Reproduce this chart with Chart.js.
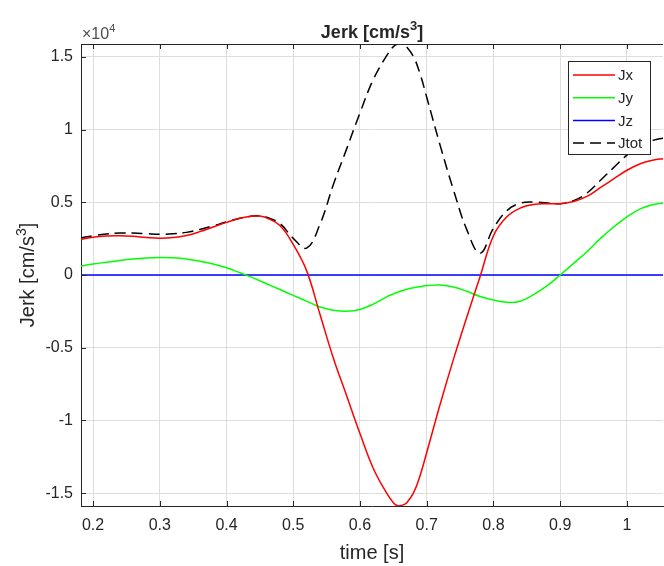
<!DOCTYPE html>
<html>
<head>
<meta charset="utf-8">
<script src="https://cdn.jsdelivr.net/npm/chart.js@4.4.1/dist/chart.umd.min.js"></script>
<style>
  html, body { margin: 0; padding: 0; background: #fff; }
  #wrap { width: 664px; height: 566px; position: relative; }
</style>
</head>
<body>
<div id="wrap"><canvas id="jerkChart"></canvas></div>
<script>
// time [s]
var time = [0.182, 0.20, 0.22, 0.24, 0.26, 0.28, 0.30, 0.32, 0.34, 0.36, 0.38, 0.40, 0.42, 0.44, 0.45, 0.46, 0.48,
            0.50, 0.52, 0.54, 0.56, 0.58, 0.60, 0.62, 0.64, 0.65, 0.657, 0.665, 0.67, 0.68, 0.69, 0.70,
            0.72, 0.74, 0.76, 0.78, 0.80, 0.82, 0.84, 0.86, 0.88, 0.90, 0.92, 0.94, 0.96, 0.98, 1.00, 1.02, 1.04, 1.054];
// jerk [cm/s^3]
var jx = [2450, 2600, 2680, 2700, 2660, 2580, 2530, 2570, 2720, 2980, 3300, 3620, 3900, 4050, 4050, 3930, 3400,
          2100, 300, -2700, -5700, -8300, -10900, -13300, -15000, -15650, -15880, -15800, -15650, -15000, -13800, -12200,
          -8900, -5800, -2900, -100, 2700, 4000, 4600, 4850, 4900, 4900, 5050, 5400, 6000, 6600, 7200, 7650, 7900, 8000];
var jy = [620, 750, 880, 1000, 1100, 1170, 1200, 1180, 1100, 950, 750, 500, 150, -200, -400, -600, -1000,
          -1400, -1800, -2200, -2420, -2490, -2370, -2000, -1500, -1300, -1170, -1050, -980, -880, -800, -730,
          -690, -820, -1120, -1480, -1720, -1880, -1800, -1350, -750, 0, 800, 1600, 2500, 3300, 4000, 4550, 4850, 4950];
var jz = [0, 0, 0, 0, 0, 0, 0, 0, 0, 0, 0, 0, 0, 0, 0, 0, 0,
          0, 0, 0, 0, 0, 0, 0, 0, 0, 0, 0, 0, 0, 0, 0,
          0, 0, 0, 0, 0, 0, 0, 0, 0, 0, 0, 0, 0, 0, 0, 0, 0, 0];
var jtot = [2550, 2700, 2820, 2880, 2880, 2840, 2800, 2830, 2930, 3130, 3380, 3650, 3900, 4050, 4060, 3970, 3540,
            2520, 1850, 3480, 6200, 8670, 11150, 13450, 15080, 15700, 15880, 15830, 15680, 15030, 13830, 12220,
            8930, 5860, 3120, 1500, 3220, 4420, 4940, 5020, 4950, 4900, 5110, 5630, 6500, 7380, 8240, 8900, 9270, 9410];

var seriesNames = ["Jx", "Jy", "Jz", "Jtot"];
var xTicks = [0.2, 0.3, 0.4, 0.5, 0.6, 0.7, 0.8, 0.9, 1.0];
var xTickLabels = ["0.2", "0.3", "0.4", "0.5", "0.6", "0.7", "0.8", "0.9", "1"];
var yTicks = [-15000, -10000, -5000, 0, 5000, 10000, 15000];
var yTickLabels = ["-1.5", "-1", "-0.5", "0", "0.5", "1", "1.5"];

var FONT = "'Liberation Sans', Arial, Helvetica, sans-serif";
var INK = "#262626";

function pts(arr) {
    return time.map(function (t, i) { return { x: t, y: arr[i] }; });
}

// text with a superscript in the middle, e.g. "Jerk [cm/s" + "3" + "]"
function supText(ctx, pre, sup, post, x, y, size, weight, align) {
    var big = weight + " " + size + "px " + FONT;
    var small = weight + " " + Math.round(size * 0.7) + "px " + FONT;
    ctx.font = big;
    var w1 = ctx.measureText(pre).width;
    var w3 = ctx.measureText(post).width;
    ctx.font = small;
    var w2 = ctx.measureText(sup).width;
    var total = w1 + w2 + w3;
    var x0 = align === "center" ? x - total / 2 : x;
    ctx.textAlign = "left";
    ctx.textBaseline = "alphabetic";
    ctx.font = big;
    ctx.fillText(pre, x0, y);
    ctx.font = small;
    ctx.fillText(sup, x0 + w1, y - size * 0.42);
    ctx.font = big;
    ctx.fillText(post, x0 + w1 + w2, y);
}

var overlay = {
    id: "overlay",
    afterDraw: function (chart) {
        var ctx = chart.ctx;
        var a = chart.chartArea;
        var sx = chart.scales.x, sy = chart.scales.y;
        ctx.save();

        // top box line + inward ticks
        ctx.strokeStyle = INK;
        ctx.lineWidth = 1;
        ctx.beginPath();
        ctx.moveTo(a.left, a.top + 0.5);
        ctx.lineTo(a.right, a.top + 0.5);
        xTicks.forEach(function (v) {
            var px = Math.round(sx.getPixelForValue(v)) + 0.5;
            ctx.moveTo(px, a.bottom);
            ctx.lineTo(px, a.bottom - 5);
            ctx.moveTo(px, a.top);
            ctx.lineTo(px, a.top + 5);
        });
        yTicks.forEach(function (v) {
            var py = Math.round(sy.getPixelForValue(v)) + 0.5;
            ctx.moveTo(a.left, py);
            ctx.lineTo(a.left + 5, py);
        });
        ctx.stroke();

        ctx.fillStyle = INK;
        // title
        supText(ctx, "Jerk [cm/s", "3", "]", (a.left + a.right) / 2, 38, 18, "bold", "center");
        // exponent
        ctx.fillStyle = "#4d4d4d";
        supText(ctx, "\u00d710", "4", "", 82, 39, 16, "normal", "left");
        // x label
        ctx.fillStyle = INK;
        ctx.font = "normal 20px " + FONT;
        ctx.textAlign = "center";
        ctx.textBaseline = "alphabetic";
        ctx.fillText("time [s]", (a.left + a.right) / 2, 559);
        // y label
        ctx.save();
        ctx.translate(34, (a.top + a.bottom) / 2);
        ctx.rotate(-Math.PI / 2);
        supText(ctx, "Jerk [cm/s", "3", "]", 0, 0, 20, "normal", "center");
        ctx.restore();

        // legend box
        var lx = 568, ly = 61, lw = 82, lh = 93;
        ctx.fillStyle = "#fff";
        ctx.fillRect(lx, ly, lw, lh);
        ctx.strokeStyle = INK;
        ctx.lineWidth = 1;
        ctx.strokeRect(lx + 0.5, ly + 0.5, lw, lh);
        chart.data.datasets.forEach(function (ds, i) {
            var yy = ly + 14 + i * 22.7;
            ctx.strokeStyle = ds.borderColor;
            ctx.lineWidth = 1.5;
            ctx.setLineDash(ds.borderDash || []);
            ctx.beginPath();
            ctx.moveTo(573, yy);
            ctx.lineTo(615, yy);
            ctx.stroke();
            ctx.setLineDash([]);
            ctx.fillStyle = INK;
            ctx.font = "normal 15px " + FONT;
            ctx.textAlign = "left";
            ctx.textBaseline = "middle";
            ctx.fillText(ds.label, 618, yy + 1);
        });
        ctx.restore();
    }
};

var common = { pointRadius: 0, borderWidth: 1.5, fill: false, tension: 0.4 };

var jerkChart = new Chart(document.getElementById("jerkChart"), {
    type: "line",
    data: {
        datasets: [
            Object.assign({ label: seriesNames[0], data: pts(jx), borderColor: "#ff0000" }, common),
            Object.assign({ label: seriesNames[1], data: pts(jy), borderColor: "#00ff00" }, common),
            Object.assign({ label: seriesNames[2], data: pts(jz), borderColor: "#0000ff" }, common),
            Object.assign({ label: seriesNames[3], data: pts(jtot), borderColor: "#000000", borderDash: [11, 6] }, common)
        ]
    },
    options: {
        responsive: true,
        maintainAspectRatio: false,
        animation: false,
        layout: { padding: { top: 44, right: 1, left: 0, bottom: 0 } },
        plugins: { legend: { display: false }, title: { display: false }, tooltip: { enabled: false } },
        scales: {
            x: {
                type: "linear",
                min: 0.182,
                max: 1.054,
                afterBuildTicks: function (s) { s.ticks = xTicks.map(function (v) { return { value: v }; }); },
                afterFit: function (s) { s.height = 60; },
                ticks: {
                    autoSkip: false, maxRotation: 0, padding: 10, color: INK,
                    font: { family: FONT, size: 16 },
                    callback: function (v, i) { return xTickLabels[i]; }
                },
                grid: { color: "#dedede", drawTicks: false },
                border: { display: true, color: INK, width: 1 }
            },
            y: {
                type: "linear",
                min: -15880,
                max: 15880,
                afterBuildTicks: function (s) { s.ticks = yTicks.map(function (v) { return { value: v }; }); },
                afterFit: function (s) { s.width = 81; },
                ticks: {
                    autoSkip: false, padding: 8, color: INK,
                    font: { family: FONT, size: 16 },
                    callback: function (v, i) { return yTickLabels[i]; }
                },
                grid: { color: "#dedede", drawTicks: false },
                border: { display: true, color: INK, width: 1 }
            }
        }
    },
    plugins: [overlay]
});
</script>
</body>
</html>
